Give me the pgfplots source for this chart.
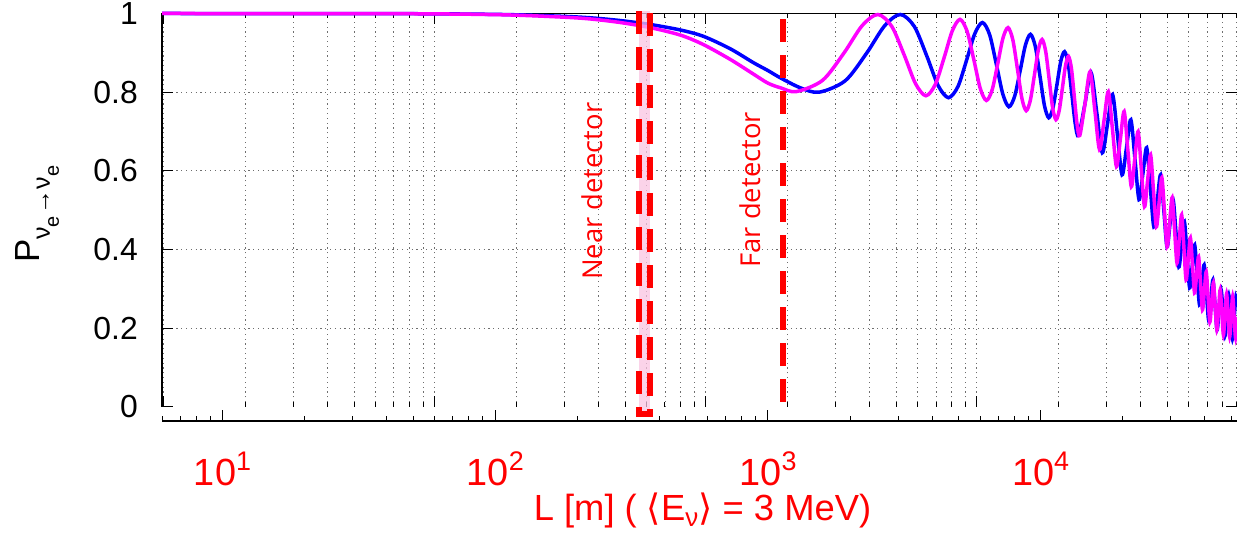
\documentclass[border=0pt]{standalone}
\usepackage{fontspec}
\setmainfont{Liberation Sans}
\newfontfamily\detfont{Open Sans}
\newfontfamily\dejavu{DejaVu Sans}
\usepackage{pgfplots}
\usepackage{pgfplotstable}
\pgfplotsset{compat=1.18}
\definecolor{cblue}{RGB}{0,0,255}
\definecolor{cmag}{RGB}{255,0,255}
\definecolor{cred}{RGB}{255,0,0}
\definecolor{cpink}{RGB}{250,196,226}
\definecolor{cgrid}{RGB}{110,110,110}

\pgfplotstableread{
L P
6 1.000
45 0.9995
105 0.9975
174 0.993
224 0.989
288 0.982
371 0.972
478 0.958
580 0.942
729 0.910
885 0.875
1000 0.855
1114 0.836
1317 0.811
1540 0.800
1920 0.829
2300 0.899
2680 0.969
3060 0.9975
3442 0.967
3825 0.892
4208 0.817
4590 0.786
4972 0.814
5355 0.882
5738 0.949
6120 0.977
6502 0.946
6885 0.870
7268 0.795
7650 0.763
8032 0.790
8415 0.855
8798 0.920
9180 0.947
9562 0.916
9945 0.841
10328 0.766
10710 0.735
11092 0.760
11475 0.819
11858 0.879
12240 0.903
12622 0.872
13005 0.797
13388 0.721
13770 0.690
14535 0.770
15300 0.850
16065 0.748
16830 0.646
17595 0.720
18360 0.794
19125 0.692
19890 0.590
20655 0.660
21420 0.730
22185 0.629
22950 0.527
23715 0.593
24480 0.659
25245 0.559
26010 0.458
26775 0.524
27540 0.590
28305 0.499
29070 0.407
29835 0.467
30600 0.527
31365 0.442
32130 0.356
32895 0.414
33660 0.471
34425 0.387
35190 0.303
35955 0.358
36720 0.412
37485 0.336
38250 0.260
39015 0.310
39780 0.361
40545 0.291
41310 0.221
42075 0.272
42840 0.323
43605 0.260
44370 0.196
45135 0.247
45900 0.298
46665 0.239
47430 0.181
48195 0.233
48960 0.285
49725 0.229
50490 0.173
51255 0.227
52020 0.280
52500 0.256
}\bluetab

\pgfplotstableread{
L P
6 1.000
45 0.9995
105 0.9968
174 0.991
224 0.986
288 0.977
371 0.964
478 0.945
580 0.921
729 0.883
885 0.846
1000 0.823
1114 0.811
1270 0.8015
1585 0.830
1900 0.8995
2215 0.969
2530 0.9975
2846 0.967
3162 0.894
3479 0.8215
3795 0.791
4111 0.820
4428 0.888
4744 0.956
5060 0.985
5376 0.9545
5692 0.882
6009 0.809
6325 0.779
6641 0.806
6958 0.8715
7274 0.937
7590 0.964
7906 0.9335
8222 0.859
8539 0.784
8855 0.753
9171 0.780
9488 0.8435
9804 0.907
10120 0.934
10436 0.904
10752 0.832
11069 0.760
11385 0.730
11701 0.754
12018 0.8105
12334 0.867
12650 0.891
12966 0.861
13282 0.790
13599 0.719
13915 0.690
14548 0.771
15180 0.852
15812 0.753
16445 0.654
17078 0.728
17710 0.8015
18342 0.706
18975 0.611
19608 0.681
20240 0.751
20872 0.655
21505 0.560
22138 0.630
22770 0.700
23402 0.604
24035 0.509
24668 0.575
25300 0.641
25932 0.550
26565 0.458
27198 0.520
27830 0.583
28462 0.495
29095 0.407
29728 0.4695
30360 0.532
30992 0.449
31625 0.366
32258 0.4275
32890 0.4885
33522 0.406
34155 0.323
34788 0.377
35420 0.430
36052 0.360
36685 0.290
37318 0.336
37950 0.382
38582 0.314
39215 0.247
39848 0.295
40480 0.3435
41112 0.280
41745 0.216
42378 0.266
43010 0.3155
43642 0.256
44275 0.196
44908 0.247
45540 0.298
46172 0.2405
46805 0.183
47438 0.235
48070 0.2875
48702 0.233
49335 0.178
49968 0.230
50600 0.282
51232 0.229
51865 0.1756
52500 0.229
}\magtab

\newcommand{\tenpow}[1]{10\raisebox{15bp}{\fontsize{27}{30}\selectfont #1}}

\begin{document}
\begin{tikzpicture}
% inner (data) axis
\begin{axis}[
  at={(162bp,127bp)}, anchor=south west,
  scale only axis, width=1075bp, height=393.5bp,
  xmode=log, xmin=6, xmax=52500, ymin=0, ymax=1,
  axis line style={draw=none},
  clip=false,
  tick align=inside, tick pos=both,
  xtick={6.08,59.9,590.5,5821},
  minor xtick={12.15,18.23,24.3,30.4,36.5,42.5,48.6,54.7,119.8,179.7,239.6,299.5,359.4,419.3,479.2,539.1,1181,1771.5,2362,2952.5,3543,4133.5,4724,5314.5,11642,17463,23284,29105,34926,40747,46568,52389},
  xticklabels={},
  xmajorgrids, xminorgrids,
  grid style={cgrid, line width=0.8bp, dash pattern=on 1.2bp off 3.6bp},
  major grid style={cgrid, line width=0.8bp, dash pattern=on 1.2bp off 3.6bp},
  minor grid style={cgrid, line width=0.8bp, dash pattern=on 1.2bp off 3.6bp},
  ytick={0,0.2,0.4,0.6,0.8,1},
  yticklabels={0,0.2,0.4,0.6,0.8,1},
  extra y ticks={0.2,0.4,0.6,0.8},
  extra y tick labels={},
  extra y tick style={grid=major},
  major tick length=11bp, minor tick length=5bp,
  every tick/.style={black, line width=1bp},
  yticklabel style={font=\fontsize{32}{36}\selectfont, anchor=east, inner sep=0pt, xshift=-24bp},
  ylabel={P\raisebox{-10bp}{\fontsize{25}{28}\selectfont ν\raisebox{-9bp}{\fontsize{20}{22}\selectfont e}\kern1bp→\kern1bpν\raisebox{-9bp}{\fontsize{20}{22}\selectfont e}}},
  ylabel style={at={(axis description cs:-0.1135,0.366)}, anchor=base west, inner sep=0pt, font=\fontsize{35}{40}\selectfont},
]
\draw[black, line width=1.5bp] (rel axis cs:0,0) -- (rel axis cs:0,1) -- (rel axis cs:1,1);
\addplot[cblue, line width=3.5bp, smooth, tension=0.5] table[x=L, y=P] {\bluetab};
\addplot[cmag, line width=3.5bp, smooth, tension=0.5] table[x=L, y=P] {\magtab};
\fill[cpink, fill opacity=0.75] (axis cs:336.8,-0.018) rectangle (axis cs:369.6,1.006);
\draw[cred, line width=5.5bp, dash pattern=on 23bp off 13bp] (axis cs:336.8,1.006) rectangle (axis cs:369.6,-0.018);
\draw[cred, line width=5.5bp, dash pattern=on 23bp off 13bp] (axis cs:1136,0.985) -- (axis cs:1136,-0.018);
\node[rotate=90, anchor=base, text=cred, font=\detfont\fontsize{27.5}{30}\selectfont, inner sep=0pt] at (axis cs:246.4,0.548) {Near detector};
\node[rotate=90, anchor=base, text=cred, font=\detfont\fontsize{27.5}{30}\selectfont, inner sep=0pt] at (axis cs:935.5,0.552) {Far detector};
\end{axis}
% outer axis with L [m] labels
\begin{axis}[
  at={(162bp,113bp)}, anchor=south west,
  scale only axis, width=1075bp, height=20bp,
  xmode=log, xmin=6, xmax=52500, ymin=0, ymax=1,
  axis x line*=bottom, axis y line=none,
  x axis line style={-, line width=1.5bp, black},
  tick align=inside,
  xtick={10,100,1000,10000},
  xticklabels={{\tenpow{1}},{\tenpow{2}},{\tenpow{3}},{\tenpow{4}}},
  minor xtick={6,7,8,9,20,30,40,50,60,70,80,90,200,300,400,500,600,700,800,900,2000,3000,4000,5000,6000,7000,8000,9000,20000,30000,40000,50000},
  major tick length=11bp, minor tick length=5bp,
  every tick/.style={black, line width=1bp},
  xticklabel style={font=\fontsize{38}{40}\selectfont, text=cred, anchor=base, inner sep=0pt, yshift=-64bp},
  xlabel={L [m] ( {\dejavu ⟨}E\raisebox{-6bp}{\fontsize{26}{30}\selectfont ν}{\dejavu ⟩} = 3 MeV)},
  xlabel style={at={(axis description cs:0.5,0)}, anchor=base, xshift=3bp, yshift=-99bp, inner sep=0pt, text=cred, font=\fontsize{36.5}{40}\selectfont},
]
\end{axis}
\pgfresetboundingbox
\path[use as bounding box] (0,0) rectangle (1237bp,534bp);
\end{tikzpicture}
\end{document}
